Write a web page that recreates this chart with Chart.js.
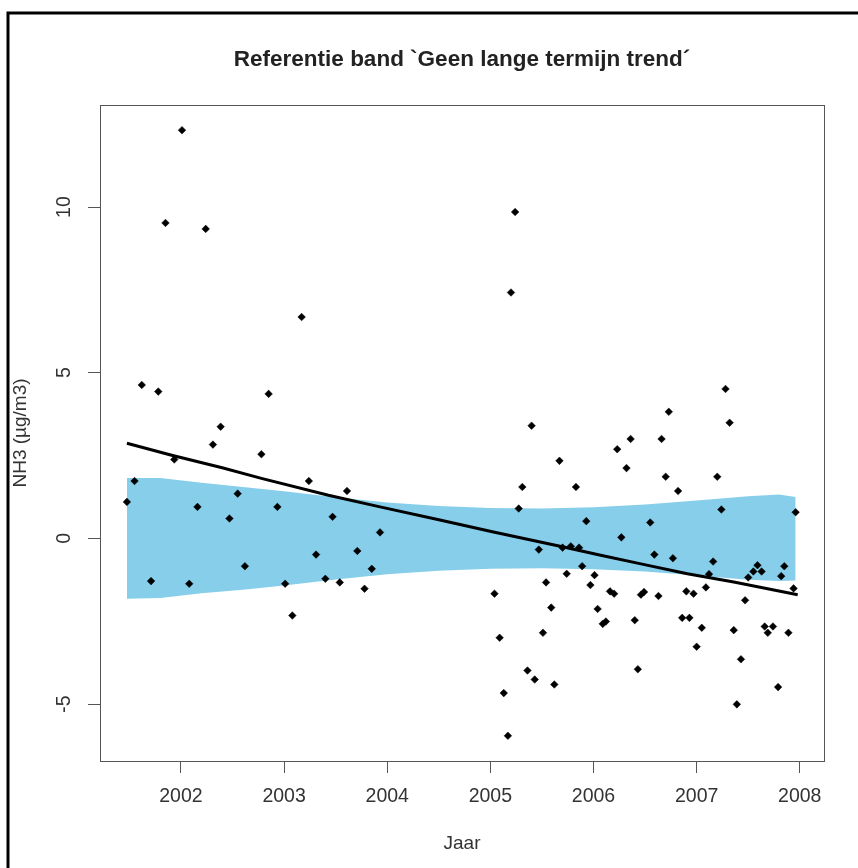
<!DOCTYPE html>
<html>
<head>
<meta charset="utf-8">
<script src="https://cdn.jsdelivr.net/npm/chart.js@4/dist/chart.umd.min.js"></script>
<style>
  html, body { margin: 0; padding: 0; background: #ffffff; }
  #wrap { position: relative; width: 858px; height: 868px; }
</style>
</head>
<body>
<div id="wrap"><canvas id="c" width="858" height="868"></canvas></div>
<script>
// NH3 measurements (decimal year, µg/m3)
const obsYears = [
  2001.476, 2001.55, 2001.62, 2001.71, 2001.78, 2001.85, 2001.935, 2002.01, 2002.08, 2002.16,
  2002.24, 2002.31, 2002.385, 2002.47, 2002.55, 2002.62, 2002.78, 2002.85, 2002.935, 2003.01,
  2003.08, 2003.17, 2003.24, 2003.31, 2003.40, 2003.47, 2003.54, 2003.61, 2003.71, 2003.78,
  2003.85, 2003.93,
  2005.04, 2005.09, 2005.13, 2005.17, 2005.20, 2005.24, 2005.275, 2005.31, 2005.36, 2005.40,
  2005.43, 2005.47, 2005.51, 2005.54, 2005.59, 2005.62, 2005.67, 2005.70, 2005.74, 2005.78,
  2005.83, 2005.86, 2005.89, 2005.93, 2005.97, 2006.01, 2006.04, 2006.09, 2006.12, 2006.16,
  2006.20, 2006.23, 2006.27, 2006.32, 2006.36, 2006.40, 2006.43, 2006.46, 2006.49, 2006.55,
  2006.59, 2006.63, 2006.66, 2006.70, 2006.73, 2006.77, 2006.82, 2006.86, 2006.90, 2006.93,
  2006.97, 2007.00, 2007.05, 2007.09, 2007.12, 2007.16, 2007.20, 2007.24, 2007.28, 2007.32,
  2007.36, 2007.39, 2007.43, 2007.47, 2007.50, 2007.55, 2007.59, 2007.63, 2007.66, 2007.69,
  2007.74, 2007.79, 2007.82, 2007.85, 2007.89, 2007.94, 2007.96
];
const obsValues = [
  1.10, 1.73, 4.63, -1.29, 4.43, 9.52, 2.38, 12.32, -1.37, 0.95,
  9.34, 2.83, 3.37, 0.60, 1.35, -0.84, 2.54, 4.36, 0.95, -1.37,
  -2.33, 6.68, 1.73, -0.49, -1.22, 0.65, -1.33, 1.43, -0.38, -1.52,
  -0.92, 0.18,
  -1.67, -3.00, -4.67, -5.96, 7.42, 9.85, 0.90, 1.55, -3.99, 3.40,
  -4.26, -0.34, -2.85, -1.33, -2.09, -4.41, 2.34, -0.28, -1.07, -0.24,
  1.55, -0.28, -0.84, 0.52, -1.41, -1.11, -2.13, -2.58, -2.51, -1.60,
  -1.67, 2.69, 0.03, 2.12, 3.00, -2.47, -3.95, -1.70, -1.62, 0.48,
  -0.49, -1.74, 3.00, 1.86, 3.82, -0.60, 1.43, -2.40, -1.60, -2.40,
  -1.67, -3.27, -2.70, -1.48, -1.08, -0.70, 1.86, 0.87, 4.51, 3.49,
  -2.77, -5.01, -3.65, -1.87, -1.18, -1.00, -0.81, -1.00, -2.66, -2.85,
  -2.66, -4.49, -1.14, -0.84, -2.85, -1.51, 0.79
];

// Smoothed long-term trend
const trendYears  = [2001.476, 2001.91, 2002.40, 2002.78, 2003.43, 2003.93, 2004.50, 2005.03, 2005.71, 2006.07, 2006.46, 2006.91, 2007.36, 2007.98];
const trendValues = [2.87, 2.51, 2.13, 1.81, 1.30, 0.95, 0.56, 0.19, -0.26, -0.51, -0.77, -1.07, -1.32, -1.70];

// Reference band "no long-term trend"
const bandYears = [2001.476, 2001.80, 2002.20, 2002.60, 2003.00, 2003.50, 2004.00, 2004.50, 2005.00, 2005.50, 2006.00, 2006.50, 2007.00, 2007.50, 2007.80, 2007.96];
const bandUpper = [1.82, 1.82, 1.68, 1.55, 1.42, 1.24, 1.08, 0.98, 0.92, 0.90, 0.94, 1.02, 1.14, 1.27, 1.32, 1.25];
const bandLower = [-1.82, -1.80, -1.66, -1.55, -1.42, -1.24, -1.08, -0.98, -0.92, -0.90, -0.93, -1.00, -1.12, -1.25, -1.29, -1.27];

const xTickValues = [2002, 2003, 2004, 2005, 2006, 2007, 2008];
const yTickValues = [-5, 0, 5, 10];

const chartTitle = "Referentie band `Geen lange termijn trend\u00b4";
const xTitle = "Jaar";
const yTitle = "NH3 (\u00b5g/m3)";

const pairs = (xs, ys) => xs.map((x, i) => ({ x: x, y: ys[i] }));

const FONT = "'Liberation Sans', Arial, sans-serif";
const INK = '#222222';
const AXIS = '#555555';

// Outer frame, plot box and main title
const decorations = {
  id: 'decorations',
  afterDraw(chart) {
    const { ctx, chartArea: a } = chart;
    ctx.save();
    ctx.strokeStyle = AXIS;
    ctx.lineWidth = 1;
    ctx.strokeRect(Math.round(a.left) + 0.5, Math.round(a.top) + 0.5,
                   Math.round(a.right - a.left), Math.round(a.bottom - a.top));
    ctx.strokeStyle = '#000000';
    ctx.lineWidth = 3;
    ctx.beginPath();
    ctx.moveTo(8, chart.height + 5);
    ctx.lineTo(8, 13);
    ctx.lineTo(chart.width + 5, 13);
    ctx.stroke();
    ctx.fillStyle = INK;
    ctx.font = 'bold 22.5px ' + FONT;
    ctx.textAlign = 'center';
    ctx.textBaseline = 'middle';
    ctx.fillText(chartTitle, (a.left + a.right) / 2, 60);
    ctx.restore();
  }
};

new Chart(document.getElementById('c'), {
  type: 'scatter',
  data: {
    datasets: [
      {
        label: 'band upper',
        data: pairs(bandYears, bandUpper),
        showLine: true,
        borderWidth: 0,
        borderColor: 'rgba(0,0,0,0)',
        pointRadius: 0,
        fill: false,
        order: 4
      },
      {
        label: 'band lower',
        data: pairs(bandYears, bandLower),
        showLine: true,
        borderWidth: 0,
        borderColor: 'rgba(0,0,0,0)',
        backgroundColor: '#87CEEB',
        pointRadius: 0,
        fill: '-1',
        order: 3
      },
      {
        label: 'trend',
        data: pairs(trendYears, trendValues),
        showLine: true,
        borderColor: '#000000',
        borderWidth: 3,
        pointRadius: 0,
        fill: false,
        order: 2
      },
      {
        label: 'NH3',
        data: pairs(obsYears, obsValues),
        pointStyle: 'rectRot',
        pointRadius: 3.8,
        pointBorderWidth: 0.5,
        backgroundColor: '#000000',
        borderColor: '#000000',
        order: 1
      }
    ]
  },
  options: {
    responsive: false,
    animation: false,
    layout: { padding: { left: 0, right: 34, top: 105, bottom: 0 } },
    plugins: {
      legend: { display: false },
      tooltip: { enabled: false },
      filler: { propagate: false }
    },
    scales: {
      x: {
        type: 'linear',
        min: 2001.215,
        max: 2008.235,
        afterBuildTicks: s => { s.ticks = xTickValues.map(v => ({ value: v })); },
        afterFit: s => { s.height = 107; },
        grid: { display: true, drawOnChartArea: false, drawTicks: true, tickLength: 12, tickColor: AXIS, tickWidth: 1 },
        border: { display: false },
        ticks: {
          color: '#333333',
          font: { family: FONT, size: 19.5, lineHeight: 1 },
          padding: 14,
          maxRotation: 0,
          autoSkip: false,
          callback: v => String(v)
        },
        title: {
          display: true,
          text: xTitle,
          color: '#333333',
          font: { family: FONT, size: 19, lineHeight: 1 },
          padding: { top: 0, bottom: 15 }
        }
      },
      y: {
        type: 'linear',
        min: -6.72,
        max: 13.08,
        afterBuildTicks: s => { s.ticks = yTickValues.map(v => ({ value: v })); },
        afterFit: s => { s.width = 100; },
        grid: { display: true, drawOnChartArea: false, drawTicks: true, tickLength: 12, tickColor: AXIS, tickWidth: 1 },
        border: { display: false },
        ticks: {
          color: '#333333',
          font: { family: FONT, size: 19.5, lineHeight: 1 },
          padding: 13,
          minRotation: 90,
          maxRotation: 90,
          crossAlign: 'center',
          autoSkip: false,
          callback: v => String(v)
        },
        title: {
          display: true,
          text: yTitle,
          color: '#333333',
          font: { family: FONT, size: 19, lineHeight: 1 },
          padding: { top: 11, bottom: 0 }
        }
      }
    }
  },
  plugins: [decorations]
});
</script>
</body>
</html>
